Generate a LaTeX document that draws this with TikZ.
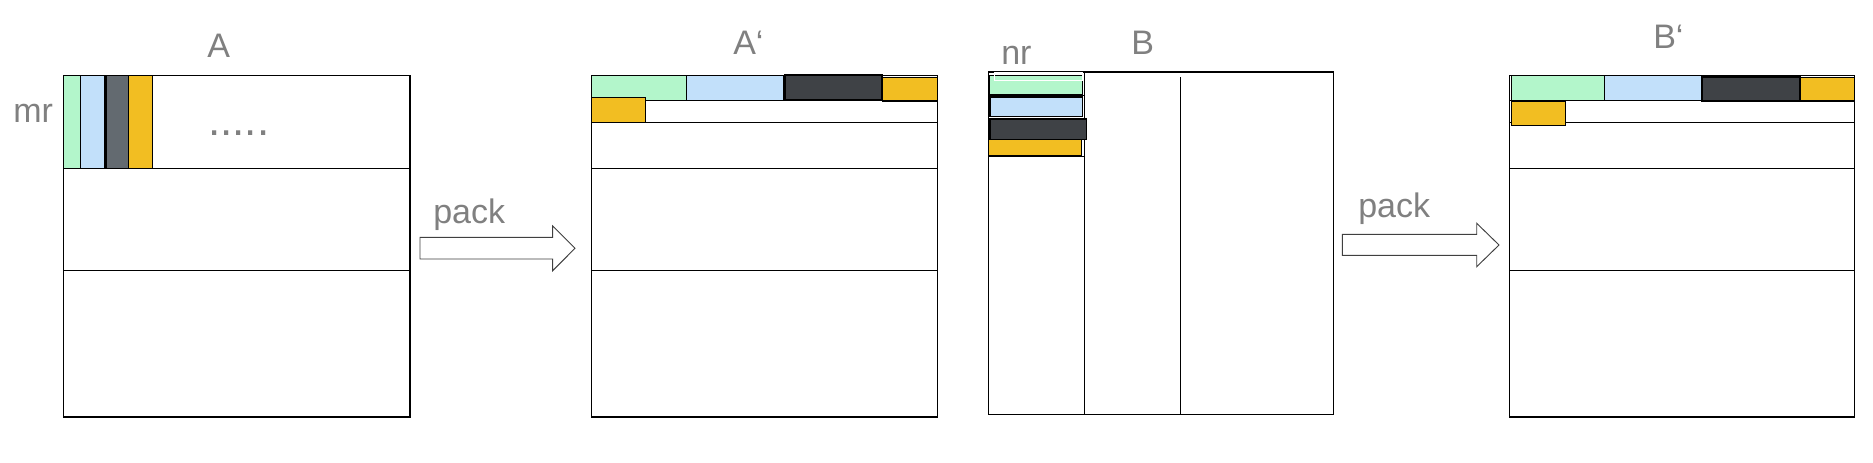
\documentclass[tikz,border=0pt]{standalone}
\usepackage{fontspec}
\setmainfont{Liberation Sans}
\definecolor{lblgray}{HTML}{808080}
\definecolor{cgreen}{HTML}{B3F6CB}
\definecolor{cblue}{HTML}{C2E0FA}
\definecolor{cgray}{HTML}{636A70}
\definecolor{cdark}{HTML}{3F4246}
\definecolor{cyellow}{HTML}{F2BE22}
\definecolor{arrowline}{HTML}{404040}
\begin{document}
\begin{tikzpicture}[x=0.75pt,y=-0.75pt,
  mat/.style={draw=black,line width=1pt},
  cell/.style={draw=black,line width=0.9pt},
  lbl/.style={text=lblgray,inner sep=0pt,anchor=base west,font=\fontsize{25.5}{28}\selectfont},
  blockarrow/.style={draw=arrowline,fill=white,line width=0.7pt,line join=miter}]
\useasboundingbox[fill=white] (0,0) rectangle (1873,463);

% ---------- A ----------
\draw[mat] (63.3,75.3) rectangle (410,417);
\draw[mat] (63.3,168.3) -- (410,168.3);
\draw[mat] (63.3,270.3) -- (410,270.3);
\draw[cell,fill=cgreen]  (63.3,75.3) rectangle (80.3,168.3);
\draw[cell,fill=cblue]   (80.3,75.3) rectangle (104.3,168.3);
\draw[cell,fill=cgray]   (106,75.3) rectangle (128.3,168.3);
\draw[cell,fill=cyellow] (128.3,75.3) rectangle (152.3,168.3);
\node[lbl] (mr) at (13,122.5) {mr};
\node[lbl] (labA) at (207,57.3) {A};
\node[lbl,font=\fontsize{33}{36}\selectfont] (dots) at (208,135.7) {.....};

% ---------- arrow 1 ----------
\draw[blockarrow] (420,237.3) -- (552.7,237.3) -- (552.7,226) -- (575,248.3)
  -- (552.7,270.7) -- (552.7,259) -- (420,259) -- cycle;
\node[lbl] (pack1) at (433,223.3) {pack};

% ---------- A' ----------
\draw[mat] (591.3,75.3) rectangle (937.7,417);
\draw[mat] (591.3,100.5) -- (937.7,100.5);
\draw[mat] (591.3,122.3) -- (937.7,122.3);
\draw[mat] (591.3,168.3) -- (937.7,168.3);
\draw[mat] (591.3,270.3) -- (937.7,270.3);
\draw[cell,fill=cgreen]  (591.3,75.3) rectangle (686.3,100.3);
\draw[cell,fill=cblue]   (686.3,75.3) rectangle (783.7,100.3);
\draw[cell,fill=cdark,line width=1.3pt] (785.3,75.3) rectangle (881.7,100);
\draw[cell,fill=cyellow] (882.3,77.3) rectangle (937.7,101);
\draw[cell,fill=cyellow] (591.3,97.3) rectangle (645.3,122.3);
\node[lbl] (labAp) at (733,54.3) {A‘};

% ---------- B ----------
\draw[mat] (988.3,72) rectangle (1333.3,414.3);
\draw[mat] (1084.3,72) -- (1084.3,414.3);
\draw[mat] (1180.3,77.3) -- (1180.3,414.3);
\draw[cell,fill=cgreen]  (989.3,75.3) rectangle (1082.3,94.3);
\draw[white,line width=0.6pt] (994.3,72.5) rectangle (1082.3,80);
\draw[cell,line width=0.6pt] (988.7,95) rectangle (1084.3,118.3);
\draw[cell,fill=cblue]   (990,97) rectangle (1082.7,116.7);
\draw[cell,fill=cdark]   (990,119) rectangle (1086.7,139.3);
\draw[cell,line width=0.6pt] (988.3,139.7) rectangle (1084.3,156);
\draw[cell,fill=cyellow] (988.7,139.7) rectangle (1081.3,156);
\node[lbl] (nr) at (1001,64.3) {nr};
\node[lbl] (labB) at (1131,54.3) {B};

% ---------- arrow 2 ----------
\draw[blockarrow] (1342.3,234.3) -- (1476.7,234.3) -- (1476.7,223.3) -- (1499,245)
  -- (1476.7,266.7) -- (1476.7,255.3) -- (1342.3,255.3) -- cycle;
\node[lbl] (pack2) at (1358,217.5) {pack};

% ---------- B' ----------
\draw[mat] (1509.3,75.3) rectangle (1854.7,417);
\draw[mat] (1509.3,100.5) -- (1854.7,100.5);
\draw[mat] (1509.3,122.3) -- (1854.7,122.3);
\draw[mat] (1509.3,168.3) -- (1854.7,168.3);
\draw[mat] (1509.3,270.3) -- (1854.7,270.3);
\draw[cell,fill=cgreen]  (1511.3,75.3) rectangle (1604.3,100.3);
\draw[cell,fill=cblue]   (1604.3,75.3) rectangle (1701.7,100.3);
\draw[cell,fill=cdark,line width=1.3pt] (1702.3,77.3) rectangle (1800,101);
\draw[cell,fill=cyellow] (1800,77.3) rectangle (1854.7,101);
\draw[cell,fill=cyellow] (1511.3,101) rectangle (1565.7,125.3);
\node[lbl] (labBp) at (1653,48.3) {B‘};
\end{tikzpicture}
\end{document}
